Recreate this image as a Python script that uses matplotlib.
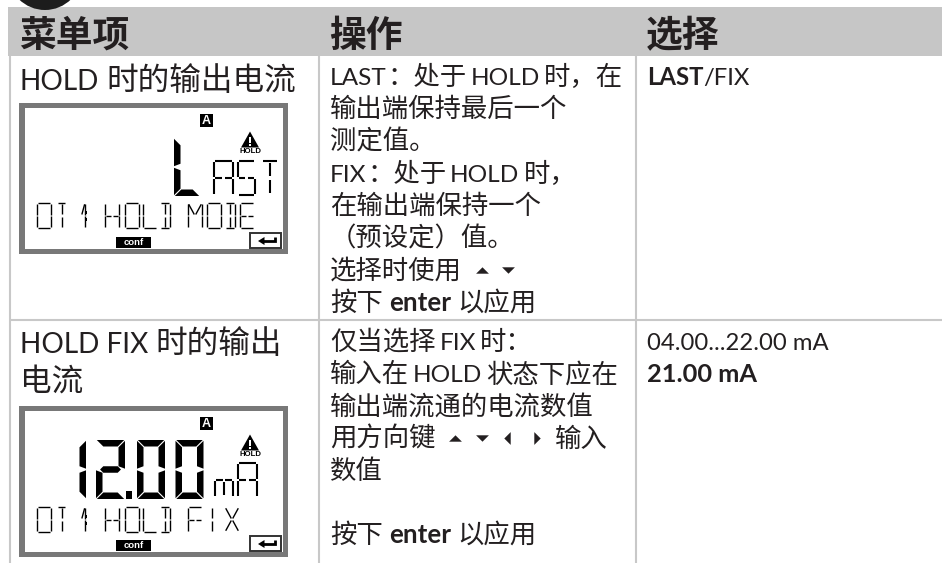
"""Menu table page with two LCD panels, drawn in pixel coordinates."""
import re
import matplotlib
matplotlib.use("Agg")
import matplotlib.pyplot as plt
from matplotlib.patches import Circle, Polygon, Rectangle

LATIN = ["Lato", "DejaVu Sans"]
CJK = ["Noto Sans CJK SC", "DejaVu Sans"]
INK = "#231f20"
GRID = "#c8c8c8"

HEADERS = ["菜单项", "操作", "选择"]
ITEM_1 = ["HOLD 时的输出电流"]
ITEM_2 = ["HOLD FIX 时的输出", "电流"]
ACTION_1 = ["LAST：处于 HOLD 时，在", "输出端保持最后一个", "测定值。", "FIX：处于 HOLD 时，",
            "在输出端保持一个", "（预设定）值。", "选择时使用"]
ACTION_2 = ["仅当选择 FIX 时：", "输入在 HOLD 状态下应在", "输出端流通的电流数值",
            "用方向键", "数值"]
APPLY = [("按下", False), ("enter", True), ("以应用", False)]
CHOICE_1 = [("LAST", True), ("/FIX", False)]
RANGE_2 = "04.00...22.00 mA"
DEFAULT_2 = "21.00 mA"

LCD1_SMALL = "OT1:HOLDMODE"
LCD2_SMALL = "OT1:HOLDFIX"

fig = plt.figure(figsize=(9.42, 5.63), dpi=100, facecolor="white")
ax = fig.add_axes([0, 0, 1, 1])
ax.set_xlim(0, 942)
ax.set_ylim(563, 0)
ax.axis("off")

# thin strokes for the small LCD characters, unit box, y down
STROKES = {
    "a": (0.06, 0, 0.94, 0), "d": (0.06, 1, 0.94, 1),
    "f": (0, 0.04, 0, 0.47), "e": (0, 0.53, 0, 0.96),
    "b": (1, 0.04, 1, 0.47), "c": (1, 0.53, 1, 0.96),
    "g": (0.06, 0.5, 0.44, 0.5), "k": (0.56, 0.5, 0.94, 0.5),
    "h": (0.5, 0.05, 0.5, 0.45), "i": (0.5, 0.55, 0.5, 0.95),
    "m": (0.05, 0.05, 0.45, 0.46), "n": (0.95, 0.05, 0.55, 0.46),
    "p": (0.45, 0.54, 0.05, 0.95), "q": (0.55, 0.54, 0.95, 0.95),
}
GLYPHS = {"O": "abcdef", "T": "ahi", "H": "febcgk", "L": "fed", "D": "adhibc", "M": "febcmn",
          "E": "adfegk", "F": "afegk", "I": "hi", "X": "mnpq", "A": "abcefgk", "S": "afgkcd",
          "1": "bcn", "m": "eicgk"}
WIDE_ARROW = {"^": [(-1, -0.5), (1, -0.5), (0, 0.5)], "v": [(-1, 0.5), (1, 0.5), (0, -0.5)],
              "<": [(0.5, -1), (0.5, 1), (-0.5, 0)], ">": [(-0.5, -1), (-0.5, 1), (0.5, 0)]}


def thin(ch, x, y, w, h, lw=1.0):
    for s in GLYPHS[ch]:
        x0, y0, x1, y1 = STROKES[s]
        ax.plot([x + x0 * w, x + x1 * w], [y + y0 * h, y + y1 * h], color="black", lw=lw,
                solid_capstyle="butt")


def big(segs, x, y, w, h, t):
    g = 0.8
    m = y + h / 2
    shapes = {
        "a": [(x + g, y), (x + w - g, y), (x + w - t - g, y + t), (x + t + g, y + t)],
        "d": [(x + g, y + h), (x + w - g, y + h), (x + w - t - g, y + h - t), (x + t + g, y + h - t)],
        "f": [(x, y + g), (x + t, y + t + g), (x + t, m - t / 2), (x, m - g)],
        "e": [(x, y + h - g), (x + t, y + h - t - g), (x + t, m + t / 2), (x, m + g)],
        "b": [(x + w, y + g), (x + w - t, y + t + g), (x + w - t, m - t / 2), (x + w, m - g)],
        "c": [(x + w, y + h - g), (x + w - t, y + h - t - g), (x + w - t, m + t / 2), (x + w, m + g)],
        "g": [(x + t / 2 + g, m), (x + t + g, m - t / 2), (x + w - t - g, m - t / 2),
              (x + w - t / 2 - g, m), (x + w - t - g, m + t / 2), (x + t + g, m + t / 2)],
    }
    for s in segs:
        ax.add_patch(Polygon(shapes[s], closed=True, fc="black", ec="none"))


def small_line(chars, xs, y, char_w=14, h=25):
    for ch, x in zip(chars, xs):
        if ch == ":":
            ax.add_patch(Rectangle((x, y + 8), 2, 3, fc="black", ec="none"))
            ax.add_patch(Rectangle((x, y + 15), 2, 3, fc="black", ec="none"))
        elif ch in "TI":
            thin(ch, x, y, 7 if ch == "T" else 6, h)
        elif ch == "D":
            thin(ch, x, y, 10, h)
        elif ch == "1":
            thin(ch, x, y, 7, h)
        else:
            thin(ch, x, y, char_w, h)


def panel(top):
    ax.add_patch(Rectangle((19, top), 269, 151, fc="#787878", ec="none"))
    ax.add_patch(Rectangle((25, top + 5), 258, 141, fc="white", ec="none"))
    # channel badge
    ax.add_patch(Rectangle((200, top + 11), 12.5, 13, fc="black", ec="none"))
    ax.text(206.2, top + 17.6, "A", color="white", fontsize=9, fontweight="bold",
            family="Liberation Sans", ha="center", va="center")
    # hold warning
    ax.add_patch(Polygon([(250, top + 28.5), (259, top + 44.5), (241, top + 44.5)], fc="black", ec="none"))
    ax.add_patch(Rectangle((249, top + 34), 2, 6, fc="white", ec="none"))
    ax.add_patch(Rectangle((249, top + 41), 2, 2, fc="white", ec="none"))
    ax.text(250, top + 48.5, "HOLD", color="black", fontsize=5.6, fontweight="bold",
            family="Liberation Sans", ha="center", va="center")
    # conf tag
    ax.add_patch(Rectangle((116, top + 134), 35, 11, fc="black", ec="none"))
    ax.text(133.5, top + 139.2, "conf", color="white", fontsize=6.8, fontweight="bold",
            family="Liberation Sans", ha="center", va="center")
    # enter key
    ax.add_patch(Rectangle((250, top + 129.5), 31, 15.5, fc="white", ec="#333333", lw=1.4))
    ax.plot([263, 275, 275], [top + 138, top + 138, top + 133.5], color="black", lw=2,
            solid_capstyle="butt", solid_joinstyle="miter")
    ax.add_patch(Polygon([(258, top + 138), (264.5, top + 134), (264.5, top + 142)], fc="black", ec="none"))


def run_text(x, y, runs, size=18.6, gap=6.5):
    r = fig.canvas.get_renderer()
    for s, bold in runs:
        fam = LATIN if s.isascii() else CJK
        fs = size if s.isascii() else 19
        t = ax.text(x, y, s, fontsize=fs, family=fam, color=INK, va="baseline",
                    fontweight="bold" if bold else "normal")
        x += t.get_window_extent(r).width + gap


# Latin and Chinese parts get their own size, the reference font has small Latin letters
def mixed(x, y, s, cjk_size, latin_size, gap):
    r = fig.canvas.get_renderer()
    for tok in re.findall(r"[\x21-\x7e]+(?: [\x21-\x7e]+)*| |[^\x20-\x7e]+", s):
        if tok == " ":
            x += gap
            continue
        latin = tok.isascii()
        t = ax.text(x, y, tok, fontsize=latin_size if latin else cjk_size, va="baseline",
                    family=LATIN if latin else CJK, color=INK)
        x += t.get_window_extent(r).width + 0.5


def lines(x, y0, pitch, rows, cjk_size=19, latin_size=17.6, gap=3.5):
    for i, s in enumerate(rows):
        mixed(x, y0 + i * pitch, s, cjk_size, latin_size, gap)


def arrows(kinds, xs, y):
    for k, x in zip(kinds, xs):
        ax.scatter([x], [y], marker=WIDE_ARROW[k], s=85, color=INK, linewidths=0)


# header band and grid
ax.add_patch(Rectangle((8, 6.5), 934, 49.5, fc="#c6c6c6", ec="none"))
ax.add_patch(Circle((45, -27), 37, fc="#1c1c1c", ec="none"))
for gx in (9.5, 318.5, 635.5):
    ax.plot([gx, gx], [56, 563], color=GRID, lw=1.5, solid_capstyle="butt")
ax.plot([9, 942], [320, 320], color=GRID, lw=1.5, solid_capstyle="butt")

for s, x in zip(HEADERS, (19, 329, 646)):
    ax.text(x, 47, s, fontsize=26.5, family=CJK, fontweight="bold", color=INK, va="baseline")

# first column
lines(20, 90, 37, ITEM_1, 22.8, 20.2, 6.5)
lines(20, 353, 37.5, ITEM_2, 22.8, 20.2, 6.5)
panel(103)
panel(406)

# LCD, first row
big("fed", 174, 138, 26, 58, 6.5)
thin("A", 214, 161, 19, 34, 1.5)
thin("S", 238, 161, 17, 34, 1.5)
thin("T", 262, 161, 16, 34, 1.5)
small_line(LCD1_SMALL, (37, 58, 78, 85, 105, 125, 143, 160, 188, 207, 225, 240), 203)

# LCD, second row
big("bc", 72, 440, 14, 59, 6.5)
big("abged", 96, 440, 29, 59, 6.5)
ax.add_patch(Rectangle((126, 491), 6, 7.5, fc="black", ec="none"))
big("abcdef", 137, 440, 28, 59, 6.5)
big("abcdef", 175.5, 440, 28, 59, 6.5)
thin("m", 215, 463, 18, 34, 1.5)
thin("A", 238, 463, 19, 34, 1.5)
small_line(LCD2_SMALL, (37, 58, 78, 85, 105, 125, 143, 160, 188, 209, 225), 507)

# second column
lines(330, 85, 32.2, ACTION_1)
arrows("^v", (482, 508), 270)
run_text(330, 311, APPLY)
lines(330, 350, 32.2, ACTION_2[:3])
lines(330, 446.6, 32.2, ACTION_2[3:])
arrows("^v<>", (455, 482, 507, 537), 438)
mixed(555, 446.6, "输入", 19, 17.6, 3.5)
run_text(330, 543, APPLY)

# third column
run_text(647, 85, CHOICE_1, size=17.2, gap=0)
ax.text(647, 350, RANGE_2, fontsize=17.2, family=LATIN, color=INK, va="baseline")
ax.text(647, 382, DEFAULT_2, fontsize=18.3, family=LATIN, color=INK, fontweight="bold", va="baseline")

fig.savefig("out.png", dpi=100, facecolor="white")
